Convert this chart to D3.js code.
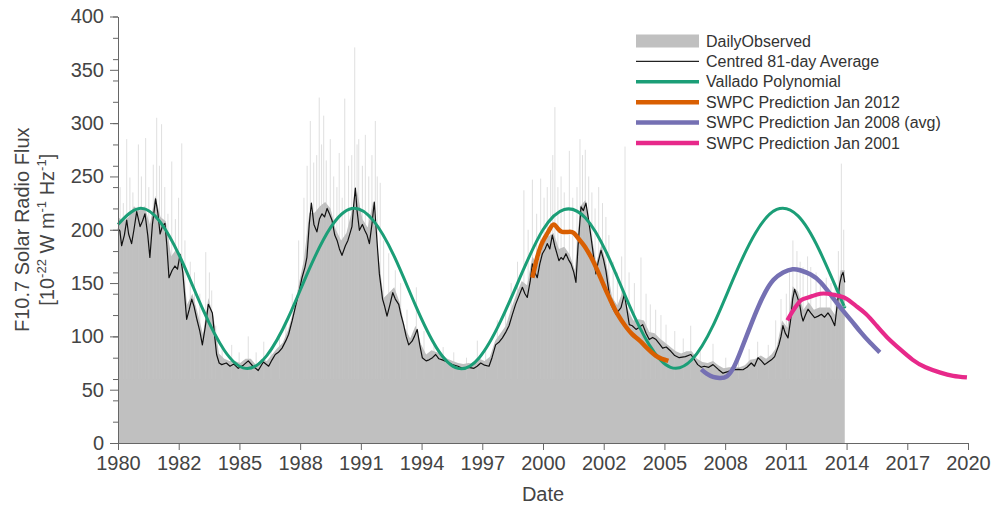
<!DOCTYPE html>
<html>
<head>
<meta charset="utf-8">
<script src="https://cdnjs.cloudflare.com/ajax/libs/d3/7.8.5/d3.min.js"></script>
<style>
  body { margin: 0; background: #fff; }
  svg { font-family: "Liberation Sans", Arial, sans-serif; }
  .axis path, .axis line { stroke: #666; }
  .axis text { fill: #444; font-size: 20px; font-family: "Liberation Sans", Arial, sans-serif; }
</style>
</head>
<body>
<svg width="994" height="506"></svg>
<script>
// x tick labels (14 equal steps between 1980 and 2020, labels show the year)
var xTickLabels = ["1980", "1982", "1985", "1988", "1991", "1994", "1997", "2000",
                   "2002", "2005", "2008", "2011", "2014", "2017", "2020"];
var yTicks = [0, 50, 100, 150, 200, 250, 300, 350, 400];

// daily observed (dense part, read at quarter-year steps)
var dailyYears = [1980.0, 1980.25, 1980.5, 1980.75, 1981.0, 1981.25, 1981.5, 1981.75, 1982.0, 1982.25, 1982.5, 1982.75,
  1983.0, 1983.25, 1983.5, 1983.75, 1984.0, 1984.25, 1984.5, 1984.75, 1985.0, 1985.25, 1985.5, 1985.75,
  1986.0, 1986.25, 1986.5, 1986.75, 1987.0, 1987.25, 1987.5, 1987.75, 1988.0, 1988.25, 1988.5, 1988.75,
  1989.0, 1989.25, 1989.5, 1989.75, 1990.0, 1990.25, 1990.5, 1990.75, 1991.0, 1991.25, 1991.5, 1991.75,
  1992.0, 1992.25, 1992.5, 1992.75, 1993.0, 1993.25, 1993.5, 1993.75, 1994.0, 1994.25, 1994.5, 1994.75,
  1995.0, 1995.25, 1995.5, 1995.75, 1996.0, 1996.25, 1996.5, 1996.75, 1997.0, 1997.25, 1997.5, 1997.75,
  1998.0, 1998.25, 1998.5, 1998.75, 1999.0, 1999.25, 1999.5, 1999.75, 2000.0, 2000.25, 2000.5, 2000.75,
  2001.0, 2001.25, 2001.5, 2001.75, 2002.0, 2002.25, 2002.5, 2002.75, 2003.0, 2003.25, 2003.5, 2003.75,
  2004.0, 2004.25, 2004.5, 2004.75, 2005.0, 2005.25, 2005.5, 2005.75, 2006.0, 2006.25, 2006.5, 2006.75,
  2007.0, 2007.25, 2007.5, 2007.75, 2008.0, 2008.25, 2008.5, 2008.75, 2009.0, 2009.25, 2009.5, 2009.75,
  2010.0, 2010.25, 2010.5, 2010.75, 2011.0, 2011.25, 2011.5, 2011.75, 2012.0, 2012.25, 2012.5, 2012.75,
  2013.0, 2013.25, 2013.5, 2013.75, 2014.0, 2014.2];
var dailyFlux = [212, 208, 212, 222, 218, 222, 205, 232, 212, 208, 175, 182,
  176, 130, 140, 122, 102, 136, 118, 84, 79, 77, 77, 75,
  79, 79, 73, 79, 77, 83, 89, 94, 106, 123, 148, 172,
  216, 216, 222, 226, 220, 200, 190, 197, 217, 236, 210, 202,
  226, 176, 136, 141, 146, 132, 108, 98, 110, 93, 83, 87,
  85, 83, 79, 77, 75, 74, 75, 74, 79, 77, 81, 96,
  103, 110, 126, 140, 152, 148, 175, 167, 186, 194, 197, 182,
  184, 177, 162, 222, 228, 200, 169, 186, 166, 137, 129, 142,
  125, 115, 116, 115, 104, 103, 98, 94, 90, 86, 84, 86,
  86, 79, 76, 75, 77, 73, 70, 71, 71, 71, 73, 78,
  79, 82, 79, 83, 90, 115, 108, 147, 142, 125, 132, 125,
  127, 127, 127, 120, 162, 162];

// daily peaks (faint spikes above the dense part)
var spikeYears = [1980.1, 1980.25, 1980.41, 1980.56, 1980.7, 1980.96, 1981.1, 1981.3, 1981.45, 1981.66, 1981.82, 1981.95,
  1982.05, 1982.2, 1982.35, 1982.53, 1982.7, 1982.85, 1983.0, 1983.15, 1983.4, 1983.6, 1983.85, 1984.13,
  1984.3, 1984.41, 1984.6, 1984.9, 1985.35, 1985.7, 1986.13, 1986.5, 1986.86, 1987.2, 1987.6, 1987.9,
  1988.2, 1988.5, 1988.75, 1988.9, 1989.05, 1989.21, 1989.35, 1989.47, 1989.58, 1989.68, 1989.8, 1989.99,
  1990.15, 1990.3, 1990.41, 1990.55, 1990.67, 1990.85, 1991.0, 1991.14, 1991.25, 1991.33, 1991.5, 1991.64,
  1991.8, 1991.95, 1992.11, 1992.2, 1992.34, 1992.5, 1992.74, 1993.05, 1993.3, 1993.6, 1994.04, 1994.4,
  1994.87, 1995.3, 1995.8, 1996.4, 1996.91, 1997.3, 1997.85, 1998.24, 1998.5, 1998.8, 1999.1, 1999.3,
  1999.5, 1999.7, 1999.89, 2000.05, 2000.2, 2000.36, 2000.46, 2000.56, 2000.7, 2000.85, 2001.0, 2001.24,
  2001.4, 2001.6, 2001.74, 2001.86, 2001.99, 2002.15, 2002.3, 2002.45, 2002.62, 2002.8, 2002.96, 2003.1,
  2003.3, 2003.5, 2003.7, 2003.86, 2004.05, 2004.3, 2004.61, 2004.85, 2005.05, 2005.3, 2005.55, 2005.79,
  2006.2, 2006.6, 2006.95, 2007.4, 2008.0, 2008.6, 2009.2, 2009.7, 2010.1, 2010.6, 2010.95, 2011.2,
  2011.45, 2011.6, 2011.76, 2011.95, 2012.1, 2012.24, 2012.45, 2012.6, 2012.85, 2013.05, 2013.33, 2013.55,
  2013.75, 2013.9, 2014.04, 2014.15];
var spikeFlux = [240, 225, 285, 249, 235, 280, 250, 286, 240, 261, 305, 260,
  299, 240, 215, 264, 210, 230, 281, 190, 170, 160, 140, 179,
  160, 143, 110, 90, 92, 85, 100, 85, 95, 90, 100, 115,
  140, 190, 230, 260, 302, 263, 270, 324, 280, 307, 265, 285,
  250, 240, 272, 230, 323, 260, 270, 371, 280, 285, 260, 289,
  250, 270, 302, 250, 244, 190, 178, 162, 150, 125, 146, 105,
  92, 90, 85, 80, 96, 90, 115, 127, 150, 170, 237, 200,
  247, 215, 248, 230, 240, 256, 270, 315, 240, 250, 235, 274,
  230, 240, 285, 270, 275, 250, 235, 220, 240, 225, 212, 195,
  170, 160, 175, 278, 160, 150, 174, 140, 130, 125, 120, 111,
  105, 98, 110, 90, 93, 80, 80, 88, 95, 92, 115, 135,
  140, 160, 190, 180, 170, 165, 175, 165, 160, 150, 155, 150,
  145, 180, 262, 200];

// centred 81-day average
var avgYears = [1980.0, 1980.09, 1980.17, 1980.3, 1980.41, 1980.5, 1980.64, 1980.75, 1980.88, 1981.04, 1981.15, 1981.27,
  1981.4, 1981.5, 1981.62, 1981.77, 1981.88, 1981.98, 1982.1, 1982.21, 1982.3, 1982.4, 1982.55, 1982.68,
  1982.8, 1982.92, 1983.05, 1983.23, 1983.35, 1983.47, 1983.58, 1983.7, 1983.85, 1983.97, 1984.1, 1984.25,
  1984.35, 1984.44, 1984.55, 1984.64, 1984.76, 1984.88, 1985.1, 1985.27, 1985.45, 1985.66, 1985.9, 1986.13,
  1986.35, 1986.6, 1986.84, 1987.09, 1987.25, 1987.4, 1987.55, 1987.72, 1987.9, 1988.03, 1988.2, 1988.34,
  1988.5, 1988.66, 1988.8, 1988.89, 1989.0, 1989.1, 1989.22, 1989.36, 1989.48, 1989.6, 1989.72, 1989.84,
  1989.95, 1990.07, 1990.2, 1990.31, 1990.42, 1990.54, 1990.7, 1990.82, 1991.01, 1991.1, 1991.17, 1991.25,
  1991.36, 1991.5, 1991.61, 1991.72, 1991.83, 1991.95, 1992.06, 1992.15, 1992.3, 1992.45, 1992.55, 1992.66,
  1992.8, 1992.93, 1993.05, 1993.21, 1993.32, 1993.44, 1993.56, 1993.68, 1993.84, 1993.95, 1994.08, 1994.2,
  1994.32, 1994.5, 1994.64, 1994.8, 1994.95, 1995.1, 1995.26, 1995.5, 1995.73, 1996.0, 1996.2, 1996.5,
  1996.75, 1996.9, 1997.07, 1997.25, 1997.46, 1997.6, 1997.77, 1997.95, 1998.09, 1998.25, 1998.4, 1998.55,
  1998.71, 1998.87, 1999.03, 1999.15, 1999.26, 1999.4, 1999.5, 1999.62, 1999.73, 1999.85, 1999.97, 2000.1,
  2000.2, 2000.32, 2000.44, 2000.55, 2000.65, 2000.75, 2000.85, 2000.95, 2001.08, 2001.2, 2001.32, 2001.45,
  2001.55, 2001.65, 2001.79, 2001.9, 2002.02, 2002.14, 2002.26, 2002.38, 2002.49, 2002.6, 2002.73, 2002.85,
  2002.96, 2003.08, 2003.2, 2003.32, 2003.44, 2003.55, 2003.67, 2003.83, 2003.95, 2004.06, 2004.2, 2004.38,
  2004.5, 2004.69, 2004.85, 2005.0, 2005.16, 2005.32, 2005.48, 2005.63, 2005.8, 2006.02, 2006.2, 2006.41,
  2006.7, 2006.96, 2007.1, 2007.28, 2007.45, 2007.59, 2007.8, 2008.0, 2008.25, 2008.47, 2008.7, 2008.94,
  2009.2, 2009.41, 2009.6, 2009.8, 2009.95, 2010.12, 2010.28, 2010.43, 2010.6, 2010.75, 2010.9, 2011.1,
  2011.2, 2011.29, 2011.4, 2011.53, 2011.65, 2011.75, 2011.84, 2011.95, 2012.08, 2012.16, 2012.24, 2012.35,
  2012.47, 2012.6, 2012.78, 2012.95, 2013.1, 2013.25, 2013.41, 2013.55, 2013.73, 2013.85, 2013.96, 2014.05,
  2014.12, 2014.2];
var avgFlux = [201, 199, 185, 195, 209, 196, 187, 200, 217, 203, 208, 215,
  195, 174, 205, 229, 215, 196, 204, 206, 185, 155, 162, 166,
  163, 177, 160, 116, 125, 135, 128, 117, 105, 92, 108, 130,
  126, 122, 100, 83, 75, 73.5, 75, 72, 74, 70, 73, 77,
  72, 68, 76, 72, 78, 83, 85, 89, 96, 102, 115, 127,
  140, 155, 165, 174, 205, 225, 205, 198, 210, 215, 212, 220,
  215, 209, 195, 190, 182, 176, 185, 190, 203, 225, 239, 218,
  199.5, 205, 199.5, 195, 187, 205, 226, 200, 158.6, 135, 128, 119,
  130, 141, 135, 130, 120, 111, 100, 92, 95.5, 100, 106.5, 92,
  80, 77, 78, 80, 83, 79, 78, 76, 73.5, 72, 70, 71,
  70, 72, 75, 73, 72, 80, 92, 95, 98.6, 104, 110, 120,
  130, 138, 146, 140, 136.5, 152, 168, 160, 155, 168, 177.5, 182,
  187, 182, 195, 185, 178, 171, 174, 172, 177.5, 172, 168, 160,
  150.6, 185, 221.5, 218, 225, 210, 193, 175, 158.6, 170, 180.6, 172,
  161.7, 145, 130, 125, 120.7, 124, 127, 139.7, 125, 111, 110, 106.5,
  108, 111, 103, 97, 99, 97, 93, 89, 90, 86, 82, 80,
  81, 83, 79, 73.5, 71, 72, 71, 73.5, 69, 65.5, 67, 68.7,
  69, 68.7, 71, 75, 72, 80, 77, 73.5, 76, 78, 81, 92,
  100, 110, 103, 98.6, 115, 135, 144, 138, 130, 120, 114.4, 120,
  125.5, 122, 117.5, 119, 120.7, 118, 122, 118, 110, 130, 149, 157,
  160, 150.6];

// Vallado polynomial, read at yearly steps
var valladoYears = [1980, 1981, 1982, 1983, 1984, 1985, 1986, 1987, 1988, 1989, 1990, 1991,
  1992, 1993, 1994, 1995, 1996, 1997, 1998, 1999, 2000, 2001, 2002, 2003,
  2004, 2005, 2006, 2007, 2008, 2009, 2010, 2011, 2012, 2013, 2014, 2014.2];
var valladoFlux = [205, 220, 207, 171, 125, 87, 70, 82, 117, 163, 202, 220,
  209, 175, 129, 89, 70, 80, 114, 159, 200, 219, 211, 178,
  132, 92, 71, 78, 110, 156, 197, 219, 213, 181, 136, 128];

// SWPC Prediction Jan 2012
var swpc2012Years = [1999.5, 1999.7, 1999.9, 2000.1, 2000.3, 2000.5, 2000.7, 2000.9, 2001.2, 2001.45, 2001.7, 2001.9,
  2002.1, 2002.35, 2002.6, 2002.9, 2003.15, 2003.5, 2003.9, 2004.2, 2004.55, 2004.9, 2005.3, 2005.6, 2005.9];
var swpc2012Flux = [155, 172, 185, 193, 200, 205, 201, 198, 198, 197, 191, 186,
  180, 171, 160, 146, 135, 121, 109, 102, 96, 89, 82, 79, 77];

// SWPC Prediction Jan 2008 (avg)
var swpc2008Years = [2007.45, 2007.7, 2008.0, 2008.3, 2008.65, 2009.0, 2009.3, 2009.65, 2010.05, 2010.45, 2010.85,
  2011.3, 2011.75, 2012.1, 2012.6, 2013.05, 2013.5, 2014.0, 2014.5, 2014.95, 2015.4, 2015.85];
var swpc2008Flux = [69, 65, 62, 61, 62.5, 72, 86, 104, 124, 141, 153,
  160, 163, 162, 158, 151, 140, 127, 115, 104, 94, 85];

// SWPC Prediction Jan 2001
var swpc2001Years = [2011.5, 2011.7, 2011.9, 2012.15, 2012.4, 2012.7, 2013.05, 2013.4, 2013.7, 2014.0, 2014.3,
  2014.7, 2015.2, 2015.7, 2016.2, 2016.8, 2017.4, 2018.0, 2018.7, 2019.3, 2019.95];
var swpc2001Flux = [115, 122, 128, 134, 136, 138, 140, 140, 139, 137.5, 135,
  129, 121, 110, 99, 88, 78, 71, 66, 63, 61.5];

var svg = d3.select("svg"),
    margin = {top: 16.5, right: 26, bottom: 63, left: 118},
    width = 994 - margin.left - margin.right,
    height = 506 - margin.top - margin.bottom,
    g = svg.append("g").attr("transform", "translate(" + margin.left + "," + margin.top + ")");

var x = d3.scaleLinear().domain([1980, 2020]).range([0, width]),
    y = d3.scaleLinear().domain([0, 400]).range([height, 0]);

function pairs(xs, ys) {
  return xs.map(function(d, i) { return {t: d, v: ys[i]}; });
}

var line = d3.line()
    .x(function(d) { return x(d.t); })
    .y(function(d) { return y(d.v); });

// daily observed area
var area = d3.area()
    .x(function(d) { return x(d.t); })
    .y0(y(0))
    .y1(function(d) { return y(d.v); });

g.append("path")
    .datum(pairs(dailyYears, dailyFlux))
    .attr("fill", "#c0c0c0")
    .attr("d", area);

g.selectAll(".spike")
    .data(pairs(spikeYears, spikeFlux))
    .enter().append("line")
    .attr("class", "spike")
    .attr("x1", function(d) { return x(d.t); })
    .attr("x2", function(d) { return x(d.t); })
    .attr("y1", y(60))
    .attr("y2", function(d) { return y(d.v); })
    .attr("stroke", "#c4c4c4")
    .attr("stroke-opacity", 0.55)
    .attr("stroke-width", 1);

// 81-day average
g.append("path")
    .datum(pairs(avgYears, avgFlux))
    .attr("fill", "none")
    .attr("stroke", "#111")
    .attr("stroke-width", 1.2)
    .attr("stroke-linejoin", "round")
    .attr("d", line);

var smooth = d3.line()
    .curve(d3.curveNatural)
    .x(function(d) { return x(d.t); })
    .y(function(d) { return y(d.v); });

var series = [
  {name: "Vallado Polynomial", xs: valladoYears, ys: valladoFlux, color: "#1b9e77", w: 3},
  {name: "SWPC Prediction Jan 2012", xs: swpc2012Years, ys: swpc2012Flux, color: "#d95f02", w: 4.5},
  {name: "SWPC Prediction Jan 2008 (avg)", xs: swpc2008Years, ys: swpc2008Flux, color: "#7570b3", w: 4.5},
  {name: "SWPC Prediction Jan 2001", xs: swpc2001Years, ys: swpc2001Flux, color: "#e7298a", w: 4.2}
];

series.forEach(function(s) {
  g.append("path")
      .datum(pairs(s.xs, s.ys))
      .attr("fill", "none")
      .attr("stroke", s.color)
      .attr("stroke-width", s.w)
      .attr("d", smooth);
});

// axes
var xTickPos = xTickLabels.map(function(d, i) { return 1980 + i * 40 / 14; });

g.append("g")
    .attr("class", "axis")
    .attr("transform", "translate(0," + height + ")")
    .call(d3.axisBottom(x).tickValues(xTickPos).tickSizeOuter(0).tickSize(7).tickPadding(6)
      .tickFormat(function(d, i) { return xTickLabels[i]; }));

g.append("g")
    .attr("class", "axis")
    .call(d3.axisLeft(y).ticks(16).tickSize(5).tickSizeOuter(0).tickFormat(""))
    .select(".domain").remove();

g.append("g")
    .attr("class", "axis")
    .call(d3.axisLeft(y).tickValues(yTicks).tickSize(8).tickSizeOuter(0).tickPadding(6));

// axis titles
svg.append("text")
    .attr("x", margin.left + width / 2)
    .attr("y", 501)
    .attr("text-anchor", "middle")
    .attr("fill", "#444")
    .attr("font-size", 20)
    .text("Date");

var yt = svg.append("text")
    .attr("transform", "translate(29," + (margin.top + height / 2) + ") rotate(-90)")
    .attr("text-anchor", "middle")
    .attr("fill", "#444")
    .attr("font-size", 20);
yt.append("tspan").attr("x", 0).attr("dy", 0).text("F10.7 Solar Radio Flux");

var yt2 = svg.append("text")
    .attr("transform", "translate(54," + (margin.top + height / 2) + ") rotate(-90)")
    .attr("text-anchor", "middle")
    .attr("fill", "#444")
    .attr("font-size", 20);
yt2.append("tspan").text("[10");
yt2.append("tspan").attr("font-size", 13).attr("dy", -8).text("-22");
yt2.append("tspan").attr("dy", 8).text(" W m");
yt2.append("tspan").attr("font-size", 13).attr("dy", -8).text("-1");
yt2.append("tspan").attr("dy", 8).text(" Hz");
yt2.append("tspan").attr("font-size", 13).attr("dy", -8).text("-1");
yt2.append("tspan").attr("dy", 8).text("]");

// legend
var legendItems = [
  {name: "DailyObserved", type: "rect", color: "#c0c0c0"},
  {name: "Centred 81-day Average", type: "line", color: "#222", w: 1.3},
  {name: series[0].name, type: "line", color: series[0].color, w: 3.5},
  {name: series[1].name, type: "line", color: series[1].color, w: 4.5},
  {name: series[2].name, type: "line", color: series[2].color, w: 4.5},
  {name: series[3].name, type: "line", color: series[3].color, w: 4.5}
];

var legend = svg.append("g").attr("transform", "translate(636,41)");
var item = legend.selectAll(".item")
    .data(legendItems)
    .enter().append("g")
    .attr("transform", function(d, i) { return "translate(0," + (i * 20.4) + ")"; });

item.each(function(d) {
  var el = d3.select(this);
  if (d.type === "rect") {
    el.append("rect").attr("x", 0).attr("y", -6.5).attr("width", 63).attr("height", 13).attr("fill", d.color);
  } else {
    el.append("line").attr("x1", 0).attr("x2", 63).attr("y1", 0).attr("y2", 0)
      .attr("stroke", d.color).attr("stroke-width", d.w);
  }
});

item.append("text")
    .attr("x", 70)
    .attr("y", 0)
    .attr("dy", "0.35em")
    .attr("fill", "#333")
    .attr("font-size", 16)
    .text(function(d) { return d.name; });
</script>
</body>
</html>
